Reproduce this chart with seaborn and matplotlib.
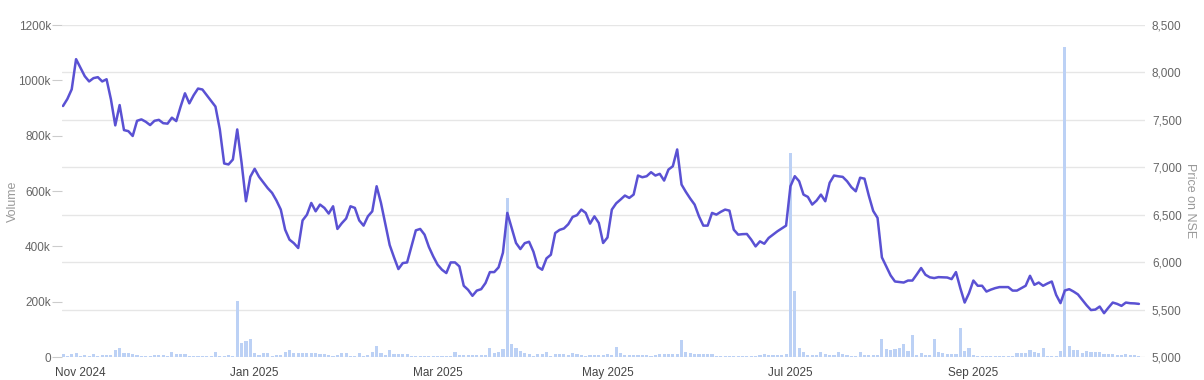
import numpy as np
import pandas as pd
import matplotlib
matplotlib.use("Agg")
import matplotlib.pyplot as plt
import seaborn as sns

# Trading-day series (one value per session)
price = [7646, 7720, 7822, 8140, 8050, 7960, 7905, 7940, 7950, 7905,
         7928, 7717, 7442, 7656, 7392, 7381, 7330, 7490, 7505, 7480,
         7445, 7490, 7500, 7465, 7460, 7523, 7487, 7640, 7780, 7674,
         7760, 7830, 7820, 7760, 7700, 7640, 7400, 7040, 7030, 7082,
         7399, 7047, 6642, 6900, 6984, 6900, 6840, 6780, 6730, 6650,
         6554, 6342, 6237, 6200, 6149, 6440, 6500, 6624, 6536, 6607,
         6572, 6512, 6589, 6350, 6410, 6460, 6589, 6572, 6440, 6385,
         6483, 6536, 6800, 6624, 6400, 6180, 6050, 5927, 5990, 5997,
         6166, 6335, 6350, 6290, 6160, 6060, 5973, 5920, 5885, 5997,
         5997, 5955, 5751, 5708, 5645, 5700, 5715, 5780, 5895, 5895,
         5945, 6100, 6519, 6360, 6202, 6138, 6200, 6215, 6110, 5950,
         5920, 6040, 6078, 6307, 6340, 6355, 6400, 6477, 6495, 6554,
         6519, 6406, 6483, 6413, 6202, 6260, 6554, 6620, 6660, 6702,
         6677, 6712, 6913, 6895, 6906, 6948, 6913, 6931, 6860, 6976,
         7011, 7188, 6818, 6740, 6670, 6607, 6483, 6385, 6385, 6519,
         6501, 6530, 6554, 6543, 6342, 6290, 6295, 6297, 6237, 6166,
         6219, 6194, 6255, 6290, 6325, 6355, 6385, 6800, 6906, 6853,
         6712, 6688, 6607, 6649, 6712, 6642, 6836, 6913, 6905, 6899,
         6853, 6790, 6747, 6890, 6880, 6700, 6540, 6466, 6050, 5955,
         5860, 5796, 5790, 5785, 5806, 5806, 5870, 5938, 5867, 5840,
         5832, 5842, 5840, 5838, 5821, 5895, 5726, 5574, 5673, 5806,
         5751, 5751, 5690, 5710, 5726, 5737, 5737, 5737, 5700, 5700,
         5726, 5751, 5856, 5761, 5785, 5751, 5775, 5796, 5655, 5568,
         5701, 5715, 5690, 5660, 5603, 5545, 5495, 5500, 5532, 5462,
         5520, 5574, 5560, 5539, 5574, 5567, 5565, 5560]

volume_k = [12, 4, 12, 14, 3, 9, 5, 12, 4, 8,
            8, 6, 27, 34, 13, 13, 12, 8, 5, 5,
            2, 7, 7, 6, 2, 19, 12, 12, 10, 5,
            5, 5, 4, 5, 5, 19, 4, 4, 6, 3,
            204, 50, 58, 66, 16, 8, 16, 16, 5, 6,
            6, 19, 27, 16, 16, 14, 16, 15, 16, 10,
            10, 9, 4, 6, 13, 13, 4, 5, 16, 5,
            8, 19, 40, 13, 8, 24, 12, 12, 11, 12,
            4, 4, 4, 3, 4, 4, 4, 4, 3, 4,
            17, 6, 8, 8, 7, 8, 8, 8, 34, 16,
            19, 30, 575, 47, 34, 20, 16, 12, 5, 12,
            12, 19, 4, 10, 10, 10, 8, 13, 10, 9,
            5, 9, 9, 9, 9, 12, 8, 36, 16, 8,
            8, 8, 6, 8, 8, 4, 8, 10, 12, 10,
            10, 12, 61, 19, 16, 12, 12, 12, 12, 12,
            4, 4, 4, 4, 4, 4, 4, 4, 4, 4,
            6, 12, 6, 6, 6, 6, 12, 737, 240, 34,
            19, 8, 8, 8, 19, 10, 8, 8, 19, 12,
            8, 4, 4, 19, 7, 7, 7, 7, 64, 30,
            25, 30, 34, 47, 22, 80, 8, 13, 8, 8,
            64, 19, 13, 12, 12, 12, 104, 22, 34, 8,
            4, 4, 4, 4, 4, 4, 4, 4, 4, 13,
            16, 13, 27, 19, 16, 32, 4, 4, 4, 22,
            1122, 40, 25, 27, 16, 22, 19, 19, 19, 12,
            12, 12, 9, 9, 12, 9, 9, 4]

month_labels = ["Nov 2024", "Jan 2025", "Mar 2025", "May 2025", "Jul 2025", "Sep 2025"]
month_start_idx = [4, 44, 86, 125, 167, 209]

vol_ticks = [0, 200, 400, 600, 800, 1000, 1200]
price_ticks = [5000, 5500, 6000, 6500, 7000, 7500, 8000, 8500]

df = pd.DataFrame({"day": np.arange(len(price)), "price": price,
                   "volume": np.array(volume_k) * 1000})

sns.set_theme(style="white")
plt.rcParams["font.family"] = ["Liberation Sans", "DejaVu Sans"]

fig = plt.figure(figsize=(12.04, 3.8), dpi=100)
ax = fig.add_axes([62 / 1204, 23 / 380, 1083 / 1204, 332 / 380])

# volume bars
sns.barplot(data=df, x="day", y="volume", ax=ax, native_scale=True,
            color="#bcd1f5", saturation=1, width=0.72, errorbar=None,
            linewidth=0)
ax.set_ylim(0, 1.2e6)
ax.set_yticks([v * 1000 for v in vol_ticks])
ax.set_yticklabels(["0" if v == 0 else f"{v}k" for v in vol_ticks])
# grid lines follow the price axis levels, drawn under the bars
ax.yaxis.remove_overlapping_locs = False
ax.set_yticks([(p - 5000) / 3500 * 1.2e6 for p in price_ticks], minor=True)
ax.grid(which="minor", axis="y", color="#e6e6e6", linewidth=1)
ax.set_axisbelow(True)
ax.tick_params(axis="y", which="major", length=7, width=0.8, color="#cccccc",
               labelsize=8.5, labelcolor="#666666", pad=1)
ax.tick_params(axis="y", which="minor", length=0)
ax.set_ylabel("Volume", color="#999999", fontsize=9, va="center")
ax.yaxis.set_label_coords(-0.045, 0.47)

ax.set_xlim(-0.23, 248.4)
ax.set_xticks(month_start_idx)
ax.set_xticklabels(month_labels)
ax.tick_params(axis="x", length=5, width=0.8, color="#cccccc",
               labelsize=8.5, labelcolor="#444444", pad=2)
ax.set_xlabel("")
for s in ["top", "left", "right", "bottom"]:
    ax.spines[s].set_visible(False)

# price line on the right axis
ax2 = ax.twinx()
sns.lineplot(data=df, x="day", y="price", ax=ax2, color="#5a51d3",
             linewidth=1.8)
ax2.lines[0].set_solid_joinstyle("round")
ax2.set_ylim(5000, 8500)
ax2.set_yticks(price_ticks)
ax2.set_yticklabels([f"{p:,}" for p in price_ticks])
ax2.tick_params(axis="y", length=0, labelsize=8.5, labelcolor="#666666", pad=5)
ax2.set_ylabel("Price on NSE", color="#999999", fontsize=9, rotation=270,
               va="center")
ax2.yaxis.set_label_coords(1.0416, 0.47)
for s in ["top", "left", "right", "bottom"]:
    ax2.spines[s].set_visible(False)
ax2.set_xlim(-0.23, 248.4)
ax2.set_xlabel("")

fig.savefig("out.png", dpi=100)
